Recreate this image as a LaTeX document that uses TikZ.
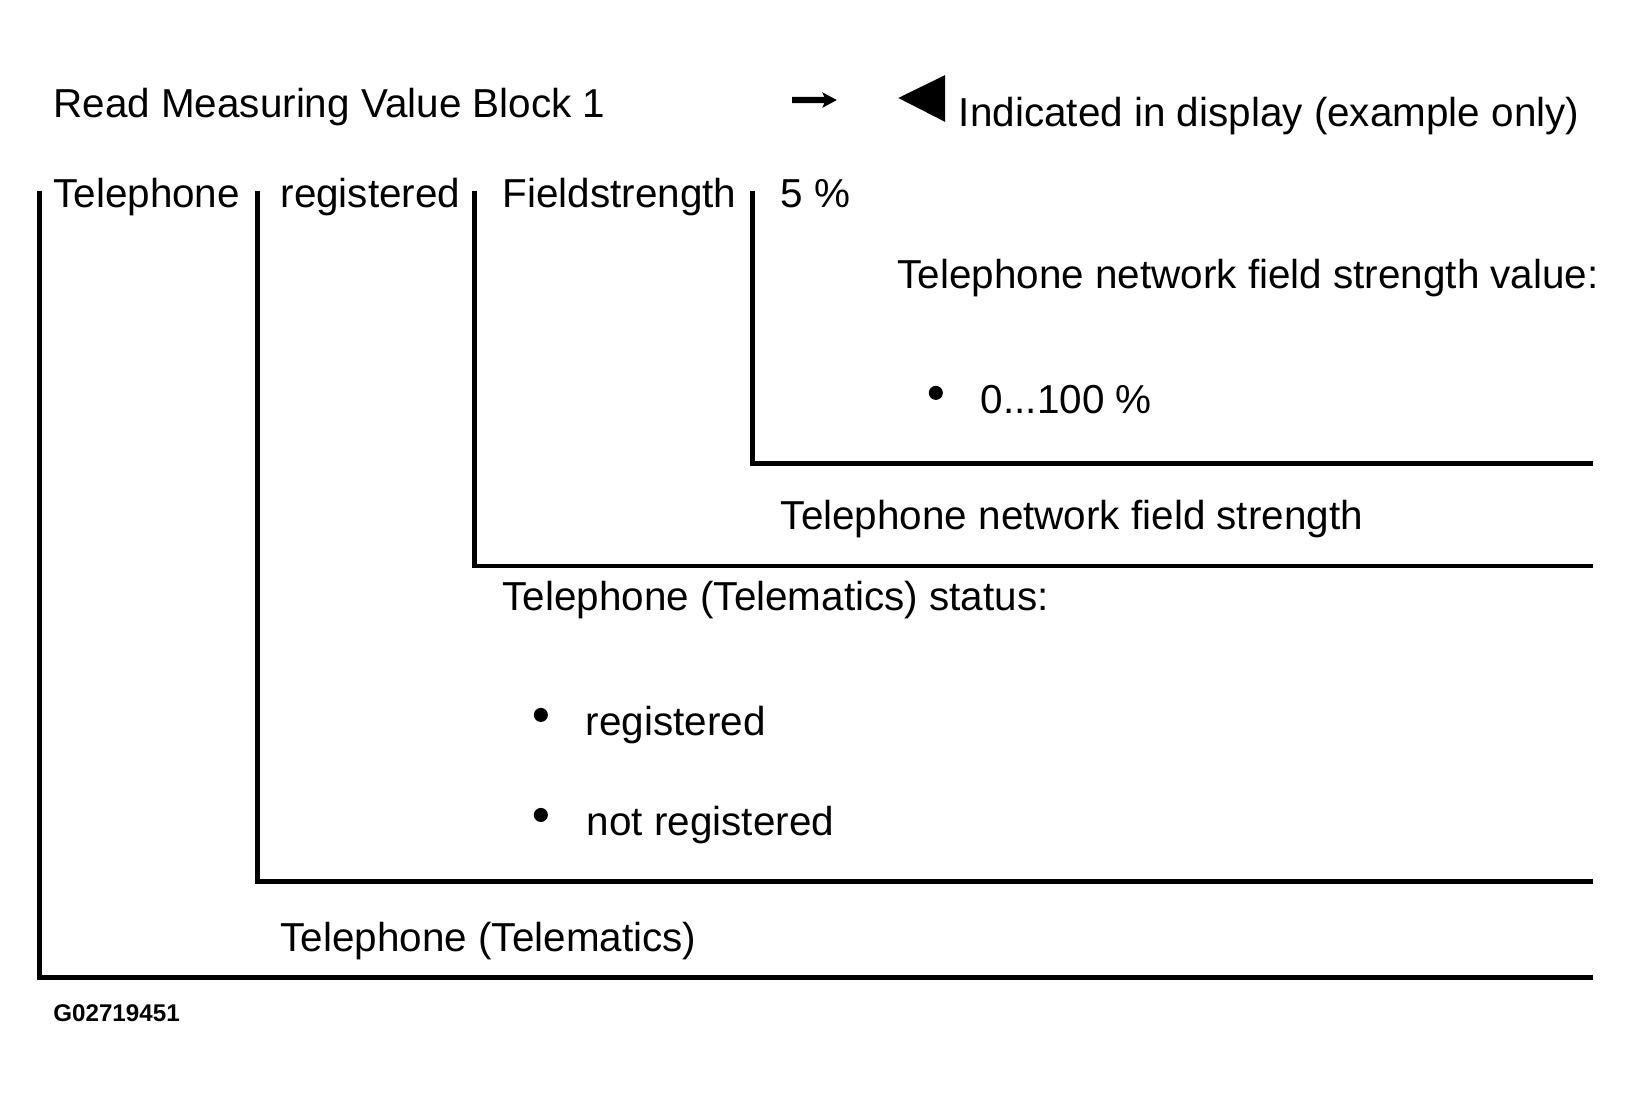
\documentclass[tikz,border=0pt]{standalone}
\usepackage{fontspec}
\setmainfont{Liberation Sans}
\begin{document}
\begin{tikzpicture}[x=1pt,y=-1pt,
  txt/.style={anchor=base west,inner sep=0pt,font=\fontsize{38.8}{46}\selectfont},
  code/.style={anchor=base west,inner sep=0pt,font=\fontsize{23.2}{28}\selectfont\bfseries},
  bracket/.style={line width=4.5pt,line cap=butt,line join=miter},
  dot/.style={circle,fill=black,inner sep=0pt,minimum size=13.5pt}]
\useasboundingbox (0,0) rectangle (1567,1052.7);
\fill[white] (0,0) rectangle (1567,1052.7);
% header
\node[txt] (read) at (51,112.5) {Read Measuring Value Block 1};
\fill (760,93) -- (791,93) -- (789,88.5) -- (803,96) -- (789,103.5) -- (791,99) -- (760,99) -- cycle;
\fill (862,94) -- (907,72) -- (907,117) -- cycle;
\node[txt] (ind) at (920,121.5) {Indicated in display (example only)};
% row
\node[txt] (tel) at (51,199.5) {Telephone};
\node[txt] (reg) at (269,199.5) {registered};
\node[txt] (fs) at (482,199.5) {Fieldstrength};
\node[txt] (val) at (749,199.5) {5 \%};
% brackets
\coordinate (a1) at (38,183); \coordinate (a2) at (38,938); \coordinate (a3) at (1529,938);
\coordinate (b1) at (247,183); \coordinate (b2) at (247,846); \coordinate (b3) at (1529,846);
\coordinate (c1) at (455,183); \coordinate (c2) at (455,543); \coordinate (c3) at (1529,543);
\coordinate (d1) at (722,183); \coordinate (d2) at (722,445); \coordinate (d3) at (1529,445);
\draw[bracket] (a1) -- (a2) -- (a3);
\draw[bracket] (b1) -- (b2) -- (b3);
\draw[bracket] (c1) -- (c2) -- (c3);
\draw[bracket] (d1) -- (d2) -- (d3);
% descriptions
\node[txt] (d4) at (861,277) {Telephone network field strength value:};
\node[dot] (bul1) at (898,377) {};
\node[txt] (range) at (941,397) {0...100 \%};
\node[txt] (d3t) at (749,508.5) {Telephone network field strength};
\node[txt] (d2t) at (482,586) {Telephone (Telematics) status:};
\node[dot] (bul2) at (519,686) {};
\node[txt] (s1) at (562,706) {registered};
\node[dot] (bul3) at (519,782) {};
\node[txt] (s2) at (563,802) {not registered};
\node[txt] (d1t) at (269,913) {Telephone (Telematics)};
\node[code] (gid) at (51,980) {G02719451};
\end{tikzpicture}
\end{document}
